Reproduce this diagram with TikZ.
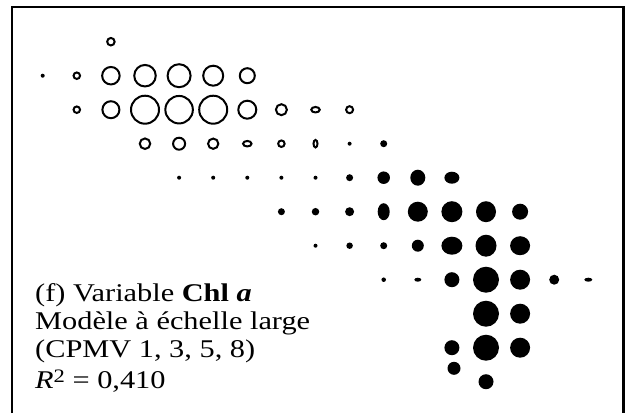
\documentclass[tikz,border=0pt]{standalone}
\usepackage{fontspec}
\setmainfont{Liberation Serif}
\begin{document}
\begin{tikzpicture}[x=1pt,y=-1pt]
\useasboundingbox (0,0) rectangle (631,413);
\tikzset{
  openmark/.style={draw=black,line width=2pt,fill=none},
  fullmark/.style={fill=black,draw=none},
  frameline/.style={draw=black,line width=2.2pt},
  lbl/.style={anchor=base west,inner sep=0pt,font=\fontsize{25.5}{27}\selectfont}
}
\newcommand\gx[1]{42.7+34.1*#1}
\newcommand\gy[1]{41.7+34.0*#1}
\newcommand\wide[1]{\scalebox{1.19}[1]{#1}}
% open circle: col row outer-diameter
\newcommand\oc[3]{\path[openmark] ({\gx{#1}},{\gy{#2}}) circle [radius={(#3-2)/2}];}
\newcommand\oel[4]{\path[openmark] ({\gx{#1}},{\gy{#2}}) ellipse [x radius={(#3-2)/2},y radius={(#4-2)/2}];}
\newcommand\fcir[3]{\path[fullmark] ({\gx{#1}},{\gy{#2}}) circle [radius={#3/2}];}
\newcommand\fel[4]{\path[fullmark] ({\gx{#1}},{\gy{#2}}) ellipse [x radius={#3/2},y radius={#4/2}];}
% frame
\draw[frameline] (12,413) -- (12,7) -- (623.5,7) -- (623.5,413);
% open markers
\oc{2}{0}{9.5}
\oc{1}{1}{8.5}\oc{2}{1}{19.5}\oc{3}{1}{23.5}\oc{4}{1}{25}\oc{5}{1}{22}\oc{6}{1}{17}
\oc{1}{2}{8.5}\oc{2}{2}{19}\oc{3}{2}{30}\oc{4}{2}{29.5}\oc{5}{2}{30}\oc{6}{2}{20}\oc{7}{2}{13}\oel{8}{2}{10.5}{7.5}\oc{9}{2}{9}
\oc{3}{3}{12.5}\oc{4}{3}{14}\oc{5}{3}{12.3}\oel{6}{3}{10.5}{7.5}\oc{7}{3}{8.5}\oel{8}{3}{6}{9.5}
% filled markers
\fcir{0}{1}{4}
\fcir{9}{3}{4}\fcir{10}{3}{7}
\fcir{4}{4}{4}\fcir{5}{4}{4}\fcir{6}{4}{4}\fcir{7}{4}{4}\fcir{8}{4}{4}\fcir{9}{4}{7}\fcir{10}{4}{12.5}\fel{11}{4}{15}{16}\fel{12}{4}{15}{12}
\fcir{7}{5}{7}\fcir{8}{5}{7.5}\fcir{9}{5}{9}\fel{10}{5}{12}{17}\fcir{11}{5}{20}\fcir{12}{5}{21}\fel{13}{5}{20}{21}\fcir{14}{5}{16}
\fcir{8}{6}{4}\fcir{9}{6}{6.5}\fcir{10}{6}{7}\fcir{11}{6}{12}\fel{12}{6}{21}{18}\fel{13}{6}{21}{22}\fel{14}{6}{20}{19}
\fcir{10}{7}{4.5}\fel{11}{7}{7}{4}\fcir{12}{7}{15}\fcir{13}{7}{26}\fcir{14}{7}{20}\fcir{15}{7}{10}\fel{16}{7}{8}{4}
\fcir{13}{8}{26}\fcir{14}{8}{20}
\fcir{12}{9}{15}\fcir{13}{9}{26}\fcir{14}{9}{20}
\path[fullmark] (454,368.3) circle [radius=6.5];
\fcir{13}{10}{15}
% labels
\node[lbl] (l1) at (35,301.5) {\wide{(f) Variable \textbf{Chl \textit{a}}}};
\node[lbl] (l2) at (35,329.5) {\wide{Modèle à échelle large}};
\node[lbl] (l3) at (35,357) {\wide{(CPMV 1, 3, 5, 8)}};
\node[lbl] (l4) at (35,388.5) {\wide{\textit{R}\raisebox{0.5ex}{\fontsize{19}{20}\selectfont 2} = 0,410}};
\end{tikzpicture}
\end{document}
